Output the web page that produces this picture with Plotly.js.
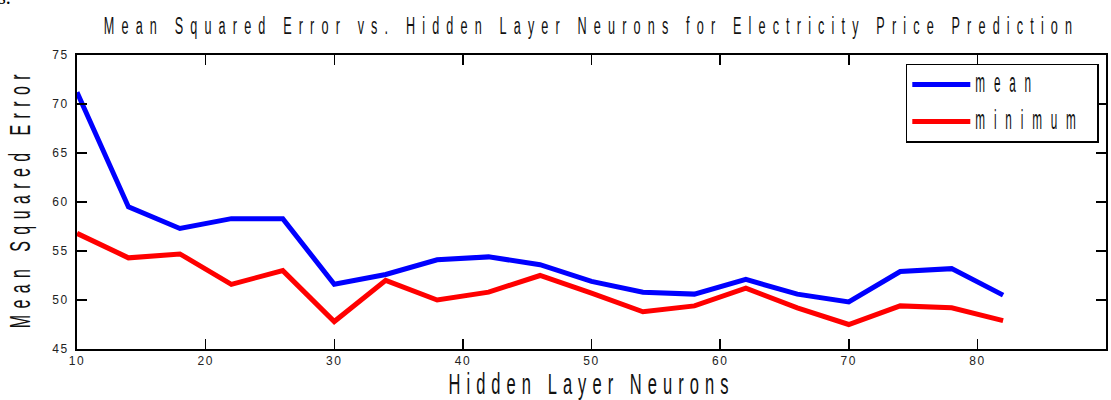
<!DOCTYPE html>
<html>
<head>
<meta charset="utf-8">
<script src="https://cdn.plot.ly/plotly-3.0.1.min.js"></script>
<style>
  html, body { margin: 0; padding: 0; background: #fff; }
  #chart { width: 1111px; height: 400px; }
  .gtitle { letter-spacing: 13px; transform: scaleX(0.55); transform-box: fill-box; transform-origin: center; }
  .xtitle { letter-spacing: 11px; transform: scaleX(0.55); transform-box: fill-box; transform-origin: center; }
  .ytitle { letter-spacing: 11.7px; transform: translate(-9px, 6px) rotate(-90deg) scaleX(0.55); transform-box: fill-box; transform-origin: center; }
  .xtick text, .ytick text { letter-spacing: 1.5px; }
  .legendtext { letter-spacing: 5px; }
</style>
</head>
<body>
<div id="chart"></div>
<script>
const neurons = [10, 14, 18, 22, 26, 30, 34, 38, 42, 46, 50, 54, 58, 62, 66, 70, 74, 78, 82];
const meanMSE = [71.2, 59.5, 57.3, 58.3, 58.3, 51.6, 52.6, 54.1, 54.4, 53.6, 51.9, 50.8, 50.6, 52.1, 50.6, 49.8, 52.9, 53.2, 50.5];
const minMSE = [56.8, 54.3, 54.7, 51.6, 53.0, 47.8, 52.0, 50.0, 50.8, 52.5, 50.7, 48.8, 49.4, 51.2, 49.2, 47.5, 49.4, 49.2, 47.9];
const seriesNames = ['mean', 'minimum'];
const xTicks = [10, 20, 30, 40, 50, 60, 70, 80, 90];
const yTicks = [45, 50, 55, 60, 65, 70, 75];

const FONT = '"Liberation Sans", Arial, sans-serif';

const traces = [
  { x: neurons, y: meanMSE, name: seriesNames[0], mode: 'lines', legendgroup: 'a',
    line: { color: '#0000ff', width: 5 } },
  { x: neurons, y: minMSE, name: seriesNames[1], mode: 'lines', legendgroup: 'b',
    line: { color: '#ff0000', width: 5 } }
];

const axisCommon = {
  showline: true, linecolor: '#000', linewidth: 2, mirror: 'ticks',
  ticks: 'inside', ticklen: 10, tickwidth: 1.5, tickcolor: '#000',
  showgrid: false, zeroline: false,
  tickfont: { family: FONT, size: 12, color: '#222' }
};

const layout = {
  width: 1111, height: 400,
  paper_bgcolor: '#fff', plot_bgcolor: '#fff',
  margin: { l: 77, r: 5, t: 55, b: 51 },
  title: {
    text: 'Mean Squared Error vs. Hidden Layer Neurons for Electricity Price Prediction',
    font: { family: FONT, size: 23, color: '#111' },
    x: 0.5, xref: 'paper', xanchor: 'center', y: 0.934, yanchor: 'middle'
  },
  xaxis: Object.assign({}, axisCommon, {
    range: [10, 90], tickvals: xTicks, ticktext: xTicks.map(String),
    title: { text: 'Hidden Layer Neurons', font: { family: FONT, size: 30, color: '#111' }, standoff: 8 }
  }),
  yaxis: Object.assign({}, axisCommon, {
    range: [45, 75], tickvals: yTicks, ticktext: yTicks.map(String),
    ticklabelstandoff: 4,
    title: { text: 'Mean Squared Error', font: { family: FONT, size: 29, color: '#111' }, standoff: 14 }
  }),
  showlegend: true,
  legend: {
    x: 0.993, xanchor: 'right', y: 0.971, yanchor: 'top',
    bgcolor: '#fff', bordercolor: '#000', borderwidth: 1.5,
    font: { family: FONT, size: 20, color: '#111' },
    tracegroupgap: 8, itemwidth: 58
  },
  annotations: [
    { text: 's.', xref: 'paper', yref: 'paper', x: -0.0787, y: 1.196, xanchor: 'left', yanchor: 'middle',
      showarrow: false, font: { family: '"Liberation Serif", serif', size: 20, color: '#000' } }
  ]
};

Plotly.newPlot('chart', traces, layout, { displayModeBar: false, staticPlot: true }).then(function () {
  const st = document.createElement('style');
  st.textContent = '.legendtext { font-size: 28px !important; letter-spacing: 21px !important; ' +
    'transform: scaleX(0.42); transform-box: fill-box; transform-origin: 0 50%; }';
  document.head.appendChild(st);
});
</script>
</body>
</html>
